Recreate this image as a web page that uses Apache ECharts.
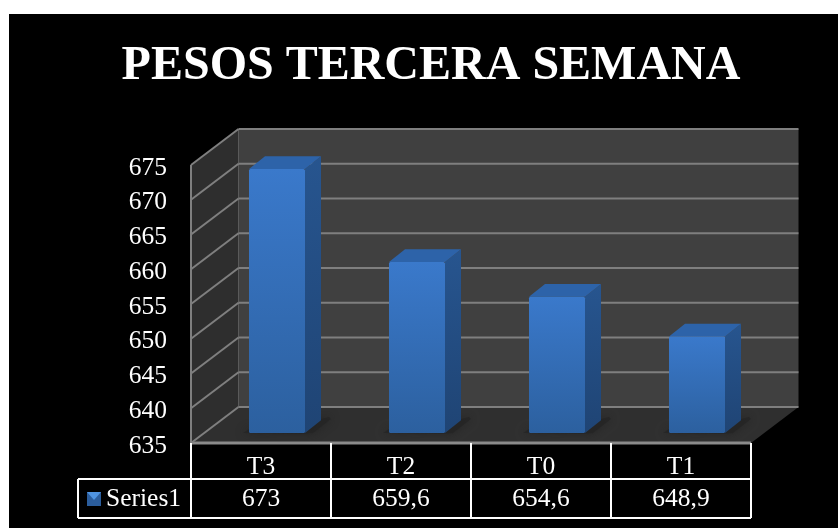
<!DOCTYPE html>
<html>
<head>
<meta charset="utf-8">
<style>html,body{margin:0;padding:0;background:#fff}#c{width:838px;height:528px}</style>
<script src="https://cdn.jsdelivr.net/npm/echarts@6/dist/echarts.min.js"></script>
</head>
<body>
<div id="c"></div>
<script>
var titleText = 'PESOS TERCERA SEMANA';
var seriesName = 'Series1';
var categories = ['T3', 'T2', 'T0', 'T1'];
var values = [673, 659.6, 654.6, 648.9];
var valueLabels = ['673', '659,6', '654,6', '648,9'];
var yTicks = [635, 640, 645, 650, 655, 660, 665, 670, 675];

var FONT = '"Liberation Serif","Times New Roman",serif';
var WALL = {dx: 47.5, dy: -36};
var BAR = {offX: 16, offY: -10, depthX: 16, depthY: -12.7, halfW: 28};
var GRID = {left: 191, right: 87, top: 165, bottom: 85};
var TABLE = {top: 443, mid: 479, bottom: 518, legendLeft: 78, legendRight: 191};
var WHITE = '#ffffff';

function poly(points, fill) {
  return {type: 'polygon', shape: {points: points}, style: {fill: fill}, silent: true};
}
function seg(x1, y1, x2, y2, color, w) {
  return {type: 'line', shape: {x1: x1, y1: y1, x2: x2, y2: y2},
    style: {stroke: color, lineWidth: w}, silent: true};
}
function vGrad(a, b) {
  return new echarts.graphic.LinearGradient(0, 0, 0, 1, [{offset: 0, color: a}, {offset: 1, color: b}]);
}

function renderWalls(params, api) {
  var tick = api.value(0);
  var rect = params.coordSys;
  var L = rect.x, R = rect.x + rect.width;
  var y = api.coord([0, tick])[1];
  var T = rect.y, B = rect.y + rect.height;
  var ch = [];
  if (params.dataIndex === 0) {
    ch.push(poly([[L + WALL.dx, T + WALL.dy], [R + WALL.dx, T + WALL.dy], [R + WALL.dx, B + WALL.dy], [L + WALL.dx, B + WALL.dy]], '#404040'));
    ch.push(poly([[L, T], [L + WALL.dx, T + WALL.dy], [L + WALL.dx, B + WALL.dy], [L, B]], '#2e2e2e'));
    ch.push(poly([[L, B], [L + WALL.dx, B + WALL.dy], [R + WALL.dx, B + WALL.dy], [R, B]], '#2f2f2f'));
    ch.push(seg(L, T, L, B, '#7f7f7f', 2));
    ch.push(seg(L + WALL.dx, T + WALL.dy, L + WALL.dx, B + WALL.dy, '#5a5a5a', 1));
    ch.push(seg(L, B, R, B, '#8a8a8a', 3));
  }
  ch.push(seg(L, y, L + WALL.dx, y + WALL.dy, '#7f7f7f', 2));
  ch.push(seg(L + WALL.dx, y + WALL.dy, R + WALL.dx, y + WALL.dy, '#7f7f7f', 2));
  return {type: 'group', children: ch};
}

function renderBars(params, api) {
  var top = api.coord([api.value(0), api.value(1)]);
  var base = api.coord([api.value(0), yTicks[0]]);
  var xl = top[0] + BAR.offX - BAR.halfW, xr = top[0] + BAR.offX + BAR.halfW;
  var yt = top[1] + BAR.offY, yb = base[1] + BAR.offY;
  var dx = BAR.depthX, dy = BAR.depthY;
  return {type: 'group', children: [
    {type: 'polygon', shape: {points: [[xl - 6, yb], [xl, yb - 4], [xr, yb - 10], [xr + dx + 8, yb - 16], [xr + dx + 10, yb - 14], [xr + 8, yb], [xr, yb + 0.5]]},
      style: {fill: 'rgba(36,36,36,0.75)', shadowBlur: 9, shadowColor: 'rgba(30,30,30,0.8)'}, silent: true},
    poly([[xr, yt], [xr + dx, yt + dy], [xr + dx, yb + dy], [xr, yb]], vGrad('#27558f', '#1f4474')),
    poly([[xl, yt], [xl + dx, yt + dy], [xr + dx, yt + dy], [xr, yt]], '#2d63a9'),
    {type: 'rect', shape: {x: xl, y: yt, width: xr - xl, height: yb - yt, r: 1.5}, style: {fill: vGrad('#3a79cb', '#2c609f')}, silent: true}
  ]};
}

function renderTable(params, api) {
  var i = params.dataIndex;
  var rect = params.coordSys;
  var c = api.coord([i, yTicks[0]]);
  var w = rect.width / categories.length;
  var ch = [];
  var xl = c[0] - w / 2, xr = c[0] + w / 2;
  ch.push(seg(xl, TABLE.top, xl, TABLE.bottom, WHITE, 2));
  ch.push(seg(xr, TABLE.top, xr, TABLE.bottom, WHITE, 2));
  ch.push(seg(xl, TABLE.mid, xr, TABLE.mid, WHITE, 2));
  ch.push(seg(xl, TABLE.bottom, xr, TABLE.bottom, WHITE, 2));
  ch.push({type: 'text', style: {text: valueLabels[i], x: c[0], y: (TABLE.mid + TABLE.bottom) / 2 + 1,
    align: 'center', verticalAlign: 'middle', fill: WHITE, font: '25.5px ' + FONT}, silent: true});
  return {type: 'group', children: ch};
}

var chart = echarts.init(document.getElementById('c'), null, {renderer: 'canvas'});
chart.setOption({
  animation: false,
  backgroundColor: '#ffffff',
  title: {
    text: titleText, left: 426, top: 38, textAlign: 'center',
    textStyle: {color: WHITE, fontFamily: FONT, fontWeight: 'bold', fontSize: 48}
  },
  grid: {left: GRID.left, right: GRID.right, top: GRID.top, bottom: GRID.bottom},
  xAxis: {
    type: 'category', data: categories,
    axisLine: {show: false}, axisTick: {show: false}, splitLine: {show: false},
    axisLabel: {color: WHITE, fontFamily: FONT, fontSize: 25.5, margin: 11, interval: 0}
  },
  yAxis: {
    type: 'value', min: 635, max: 675, interval: 5,
    axisLine: {show: false}, axisTick: {show: false}, splitLine: {show: false},
    axisLabel: {
      margin: 24,
      formatter: '{t|{value}}',
      rich: {t: {color: WHITE, fontFamily: FONT, fontSize: 25.5, padding: [6, 0, 0, 0]}}
    }
  },
  graphic: [
    {type: 'rect', z: -10, silent: true, shape: {x: 9, y: 14, width: 829, height: 514}, style: {fill: '#000000'}},
    {type: 'line', z: 5, silent: true, shape: {x1: TABLE.legendLeft, y1: TABLE.mid, x2: TABLE.legendRight, y2: TABLE.mid}, style: {stroke: WHITE, lineWidth: 2}},
    {type: 'line', z: 5, silent: true, shape: {x1: TABLE.legendLeft, y1: TABLE.bottom, x2: TABLE.legendRight, y2: TABLE.bottom}, style: {stroke: WHITE, lineWidth: 2}},
    {type: 'line', z: 5, silent: true, shape: {x1: TABLE.legendLeft, y1: TABLE.mid, x2: TABLE.legendLeft, y2: TABLE.bottom}, style: {stroke: WHITE, lineWidth: 2}},
    {type: 'rect', z: 5, silent: true, shape: {x: 87, y: 492, width: 14, height: 14}, style: {fill: '#2b5d9c'}},
    {type: 'polygon', z: 6, silent: true, shape: {points: [[87, 492], [101, 492], [94, 500]]}, style: {fill: '#4f93e0'}},
    {type: 'text', z: 6, silent: true, style: {text: seriesName, x: 106, y: 499, verticalAlign: 'middle', fill: WHITE, font: '25.5px ' + FONT}}
  ],
  series: [
    {type: 'custom', name: 'walls', z: 1, silent: true, renderItem: renderWalls, data: yTicks.map(function (t) { return [t]; }), encode: {y: 0}, clip: false},
    {type: 'custom', name: seriesName, z: 3, silent: true, renderItem: renderBars, data: values.map(function (v, i) { return [i, v]; }), encode: {x: 0, y: 1}, clip: false},
    {type: 'custom', name: 'table', z: 4, silent: true, renderItem: renderTable, data: values.map(function (v, i) { return [i, v]; }), encode: {x: 0, y: 1}, clip: false}
  ]
});
</script>
</body>
</html>
